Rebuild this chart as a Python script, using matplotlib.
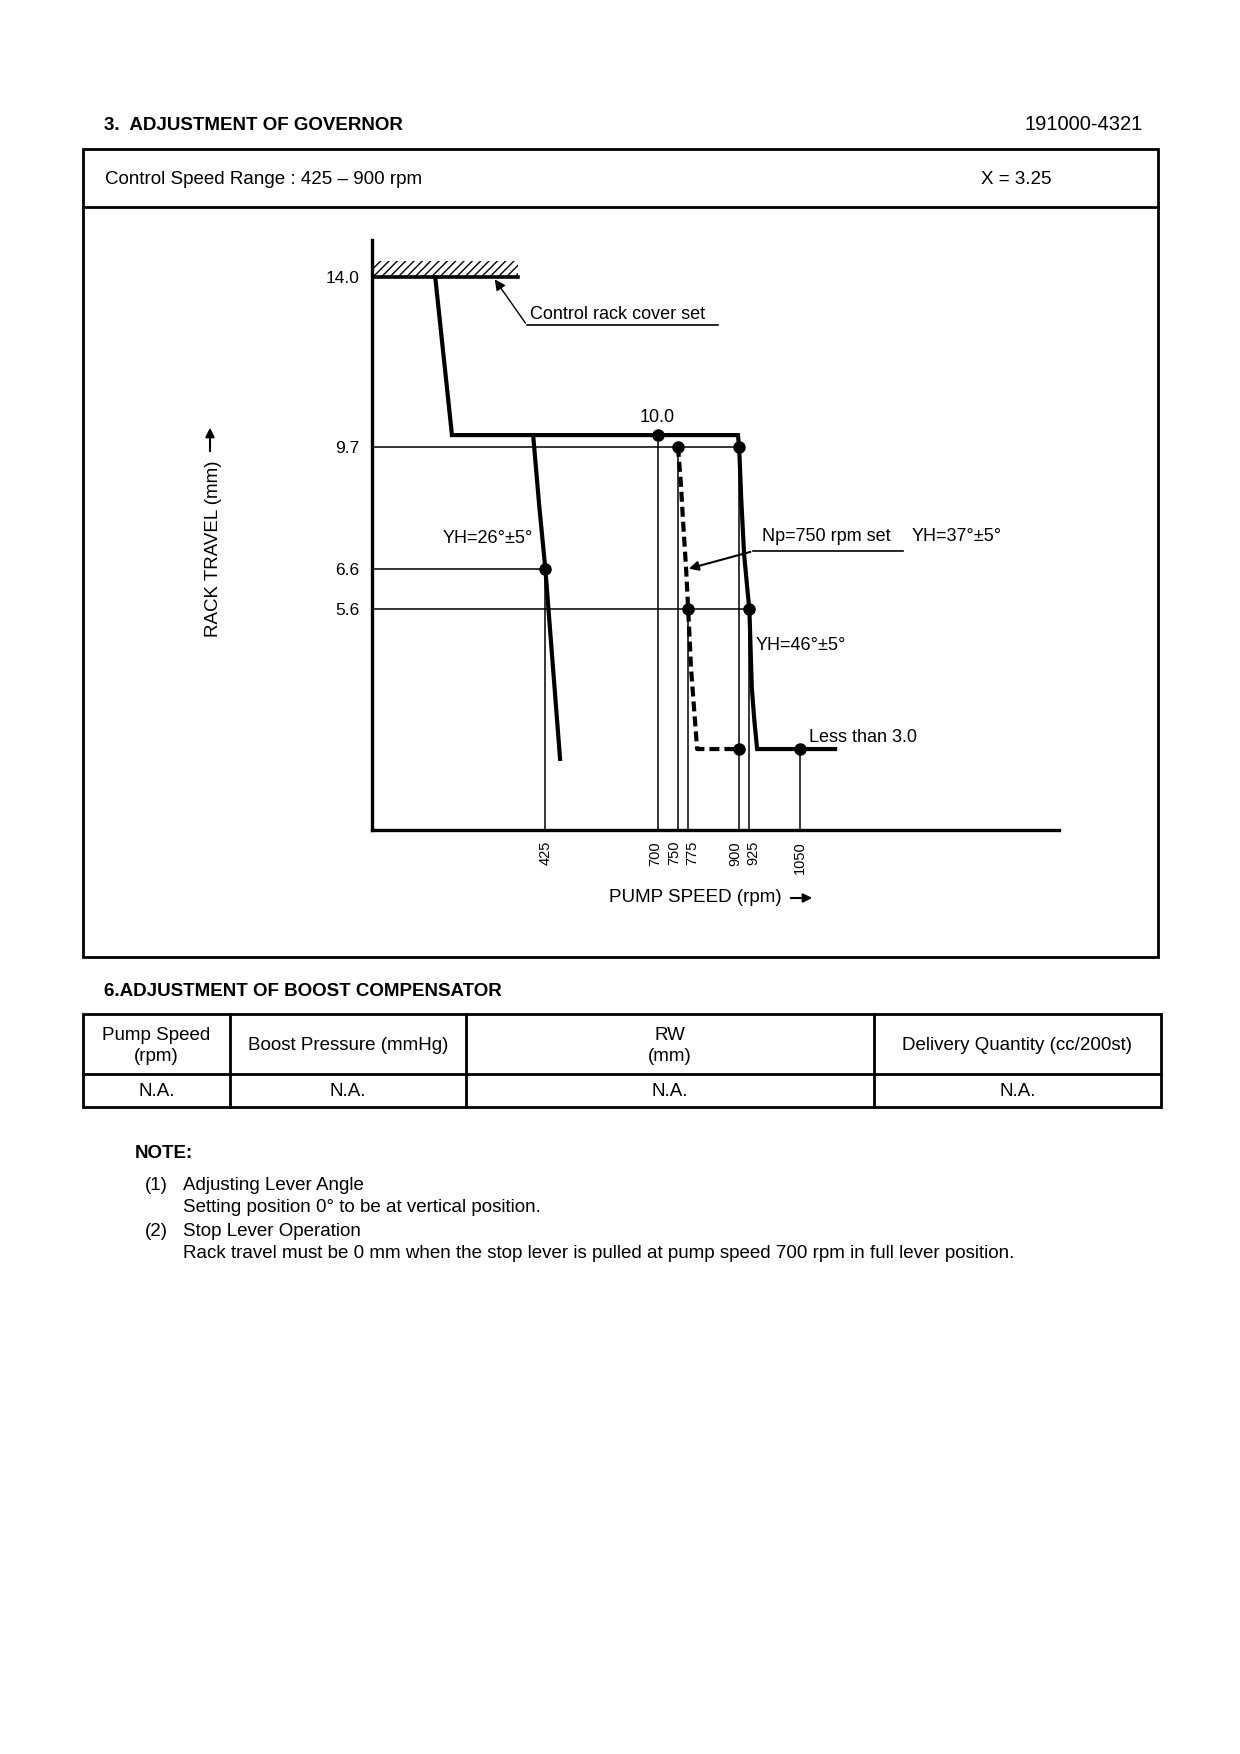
import matplotlib
matplotlib.use("Agg")
import matplotlib.pyplot as plt
from matplotlib.patches import Rectangle

plt.rcParams['font.family'] = ['Liberation Sans', 'DejaVu Sans']
plt.rcParams['hatch.linewidth'] = 1.0

# governor curve data (pump speed rpm / rack travel mm)
main_rpm = [155, 196, 897, 900, 905, 912, 921, 925, 931, 937, 944, 1135]
main_mm = [14.0, 10.0, 10.0, 9.7, 8.4, 7.0, 6.0, 5.6, 3.6, 2.8, 2.05, 2.05]
idle_rpm = [395, 410, 425, 443, 461]
idle_mm = [10.0, 8.2, 6.6, 4.2, 1.8]
set_rpm = [750, 757, 762, 770, 775, 782, 790, 797, 900]
set_mm = [9.7, 8.8, 7.9, 6.6, 5.6, 4.1, 3.0, 2.05, 2.05]
main_pts_rpm = [700, 900, 925, 1050]
main_pts_mm = [10.0, 9.7, 5.6, 2.05]
set_pts_rpm = [750, 775, 900]
set_pts_mm = [9.7, 5.6, 2.05]
idle_pts_rpm = [425]
idle_pts_mm = [6.6]
rack_cover = 14.0
cover_end = 358

xtick_vals = [425, 700, 750, 775, 900, 925, 1050]
xtick_nudge = [0, -2, -4, 4, -4, 4, 0]   # px, keeps crowded labels apart
ytick_vals = [5.6, 6.6, 9.7, 14.0]
# reference lines: (rpm, top mm) and (mm, right rpm)
vlines_rpm = [425, 700, 750, 775, 900, 925, 1050]
vlines_top = [6.6, 10.0, 9.7, 5.6, 9.7, 5.6, 2.05]
hlines_mm = [9.7, 6.6, 5.6]
hlines_end = [900, 425, 925]

table_head = ["Pump Speed\n(rpm)", "Boost Pressure (mmHg)", "RW\n(mm)", "Delivery Quantity (cc/200st)"]
table_row = ["N.A.", "N.A.", "N.A.", "N.A."]
col_edges = [83, 230, 466, 874, 1161]

notes = ["Adjusting Lever Angle",
         "Setting position 0° to be at vertical position.",
         "Stop Lever Operation",
         "Rack travel must be 0 mm when the stop lever is pulled at pump speed 700 rpm in full lever position."]

W, H = 1240, 1754
fig = plt.figure(figsize=(W / 100, H / 100), dpi=100)

# page layer in pixel coordinates
bg = fig.add_axes([0, 0, 1, 1])
bg.set_xlim(0, W)
bg.set_ylim(H, 0)
bg.axis('off')

fs = 13.5
bg.text(104, 126, "3.  ADJUSTMENT OF GOVERNOR", fontsize=fs, fontweight='bold', va='center')
bg.text(1143, 125, "191000-4321", fontsize=14.5, ha='right', va='center')
bg.add_patch(Rectangle((83, 149), 1158 - 83, 957 - 149, fill=False, lw=2, ec='black'))
bg.plot([83, 1158], [207, 207], color='black', lw=2)
bg.text(105, 179, "Control Speed Range : 425 \u2013 900 rpm", fontsize=fs, va='center')
bg.text(981, 179, "X = 3.25", fontsize=fs, va='center')

bg.text(214, 549, "RACK TRAVEL (mm)", fontsize=fs, rotation=90, ha='center', va='center')
bg.annotate("", xy=(210, 425), xytext=(210, 454),
            arrowprops=dict(arrowstyle='-|>', lw=1.5, color='black', mutation_scale=13))
bg.text(609, 898, "PUMP SPEED (rpm)", fontsize=fs, va='center')
bg.annotate("", xy=(815, 898), xytext=(788, 898),
            arrowprops=dict(arrowstyle='-|>', lw=1.5, color='black', mutation_scale=13))

# boost compensator table
bg.text(104, 991, "6.ADJUSTMENT OF BOOST COMPENSATOR", fontsize=fs, fontweight='bold', va='center')
bg.add_patch(Rectangle((83, 1014), 1161 - 83, 1107 - 1014, fill=False, lw=2, ec='black'))
bg.plot([83, 1161], [1074, 1074], color='black', lw=2)
for i in range(len(table_head)):
    if i > 0:
        bg.plot([col_edges[i], col_edges[i]], [1014, 1107], color='black', lw=2)
    cx = (col_edges[i] + col_edges[i + 1]) / 2
    bg.text(cx, 1046, table_head[i], fontsize=fs, ha='center', va='center', linespacing=1.3)
    bg.text(cx, 1092, table_row[i], fontsize=fs, ha='center', va='center')

bg.text(135, 1153, "NOTE:", fontsize=fs, fontweight='bold', va='center')
bg.text(145, 1185, "(1)", fontsize=fs, va='center')
bg.text(145, 1231, "(2)", fontsize=fs, va='center')
for y, line in zip([1185, 1208, 1231, 1254], notes):
    bg.text(183, y, line, fontsize=fs, va='center')

# governor chart
ax = fig.add_axes([372 / W, 1 - 830 / H, (1059 - 372) / W, (830 - 240) / H])
ax.set_xlim(0, 1684)
ax.set_ylim(0, 14.94)
ax.patch.set_alpha(0)
for s in ['top', 'right']:
    ax.spines[s].set_visible(False)
for s in ['left', 'bottom']:
    ax.spines[s].set_linewidth(2.4)

ax.set_xticks([])
for v, dx in zip(xtick_vals, xtick_nudge):
    ax.annotate(str(v), xy=(v, 0), xycoords=('data', 'axes fraction'),
                xytext=(dx, -11), textcoords='offset pixels',
                rotation=90, ha='center', va='top', fontsize=10.5)
ax.set_yticks(ytick_vals)
ax.set_yticklabels([f"{v:.1f}" for v in ytick_vals], fontsize=12.5)
ax.tick_params(axis='y', length=0, pad=9)

for r, t in zip(vlines_rpm, vlines_top):
    ax.plot([r, r], [0, t], color='black', lw=1.1)
for m, e in zip(hlines_mm, hlines_end):
    ax.plot([0, e], [m, m], color='black', lw=1.1)

# rack cover stop with hatching
ax.add_patch(Rectangle((0, rack_cover), cover_end, 0.42, fill=False, hatch='////', lw=0, ec='black'))
ax.plot([0, cover_end], [rack_cover, rack_cover], color='black', lw=2.6)

ax.plot(main_rpm, main_mm, color='black', lw=3, solid_joinstyle='miter')
ax.plot(idle_rpm, idle_mm, color='black', lw=3)
ax.plot(set_rpm, set_mm, color='black', lw=3, dashes=(2.4, 1.2))

ax.plot(main_pts_rpm, main_pts_mm, 'o', color='black', ms=8)
ax.plot(set_pts_rpm, set_pts_mm, 'o', color='black', ms=8)
ax.plot(idle_pts_rpm, idle_pts_mm, 'o', color='black', ms=8)

cfs = 13
ax.text(700, 10.45, "10.0", fontsize=cfs, ha='center', va='center')
ax.text(174, 7.37, "YH=26°±5°", fontsize=cfs, va='center')
ax.text(956, 7.42, "Np=750 rpm set", fontsize=cfs, va='center')
ax.text(1324, 7.42, "YH=37°±5°", fontsize=cfs, va='center')
ax.text(941, 4.68, "YH=46°±5°", fontsize=cfs, va='center')
ax.text(1071, 2.35, "Less than 3.0", fontsize=cfs, va='center')
ax.text(387, 13.05, "Control rack cover set", fontsize=cfs, va='center')

# leader lines
ax.plot([380, 848], [12.78, 12.78], color='black', lw=1.2)
ax.annotate("", xy=(297, 14.0), xytext=(380, 12.78),
            arrowprops=dict(arrowstyle='-|>', lw=1.0, color='black', mutation_scale=16))
ax.plot([934, 1301], [7.06, 7.06], color='black', lw=1.2)
ax.annotate("", xy=(770, 6.6), xytext=(934, 7.06),
            arrowprops=dict(arrowstyle='-|>', lw=1.5, color='black', mutation_scale=14))

fig.savefig("out.png", dpi=100)
